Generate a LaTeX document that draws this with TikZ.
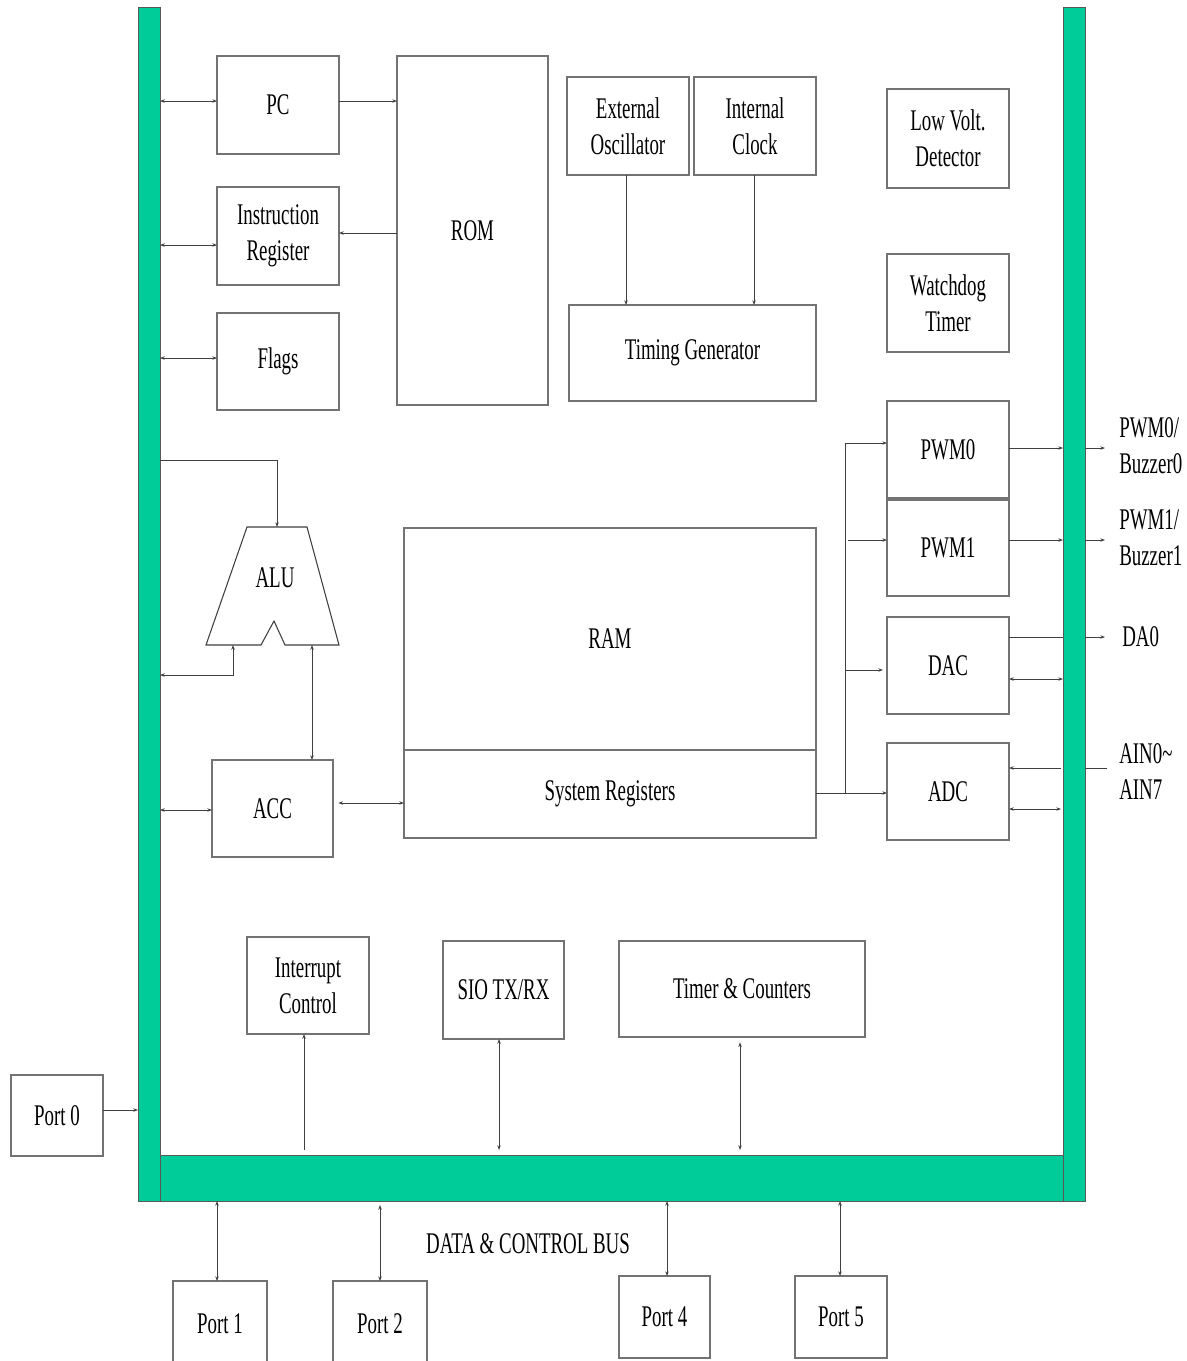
\documentclass[tikz,border=0pt]{standalone}
\usepackage{fontspec}
\setmainfont{Liberation Serif}[FakeStretch=0.63]
\usetikzlibrary{arrows.meta,calc}
\definecolor{busgreen}{HTML}{00CC99}
\newcommand\blk[7][blk]{\node[#1, minimum width={(#5-#3)*0.75pt}, minimum height={(#6-#4)*0.75pt}] (#2) at ({(#3+#5)/2},{(#4+#6)/2}) {#7};}
\begin{document}
\begin{tikzpicture}[x=0.75pt,y=-0.75pt,
  blk/.style={draw=black!55, line width=0.9pt, fill=white, inner sep=0pt, outer sep=0pt, align=center, font=\fontsize{22.5}{27}\selectfont},
  greenbar/.style={draw=black!65, line width=0.7pt, fill=busgreen, inner sep=0pt, outer sep=0pt},
  con/.style={draw=black!75, line width=0.6pt},
  lbl/.style={inner sep=0pt, align=left, font=\fontsize{22.5}{27}\selectfont},
  >={Stealth[length=3.5pt,width=2.6pt]}]
\useasboundingbox (0,0) rectangle (1186,1361);
\clip (0,0) rectangle (1186,1361);
% bars
\blk[greenbar]{lbar}{138}{7}{160}{1201}{}
\blk[greenbar]{rbar}{1063}{7}{1085}{1201}{}
\blk[greenbar]{bus}{160}{1155}{1063}{1201}{}
% blocks
\blk{PC}{217}{56}{339}{154}{PC}
\blk{IR}{217}{187}{339}{285}{Instruction\\Register}
\blk{FL}{217}{313}{339}{410}{Flags}
\blk{ROM}{397}{56}{548}{405}{ROM}
\blk{EO}{567}{77}{689}{175}{External\\Oscillator}
\blk{IC}{694}{77}{816}{175}{Internal\\Clock}
\blk{TG}{569}{305}{816}{401}{Timing Generator}
\blk{LVD}{887}{89}{1009}{188}{Low Volt.\\Detector}
\blk{WDT}{887}{254}{1009}{352}{Watchdog\\Timer}
\blk{PWM0}{887}{401}{1009}{498}{PWM0}
\blk{PWM1}{887}{500}{1009}{596}{PWM1}
\blk{DAC}{887}{617}{1009}{714}{DAC}
\blk{ADC}{887}{743}{1009}{840}{ADC}
\blk{RAM}{404}{528}{816}{750}{RAM}
\blk{SR}{404}{750}{816}{838}{System Registers}
\blk{ACC}{212}{760}{333}{857}{ACC}
\blk{INT}{247}{937}{369}{1034}{Interrupt\\Control}
\blk{SIO}{443}{941}{564}{1039}{SIO TX/RX}
\blk{TC}{619}{941}{865}{1037}{Timer \& Counters}
\blk{P0}{11}{1075}{103}{1156}{Port 0}
\blk{P1}{173}{1281}{267}{1367}{Port 1}
\blk{P2}{333}{1281}{427}{1367}{Port 2}
\blk{P4}{619}{1276}{710}{1358}{Port 4}
\blk{P5}{795}{1276}{887}{1358}{Port 5}
% ALU
\draw[draw=black!75, line width=0.8pt, fill=white] (247,527) -- (307,527) -- (339,645) -- (285,645) -- (274,621) -- (261,645) -- (206,645) -- cycle;
\node[lbl] (ALU) at (275,578) {ALU};
\coordinate (aluT) at (277,527);
\coordinate (aluL) at (233,645);
\coordinate (aluR) at (312,645);
% left side connectors
\draw[con,<->] (lbar.east |- 0,101) -- (PC.west |- 0,101);
\draw[con,->] (PC.east |- 0,101) -- (ROM.west |- 0,101);
\draw[con,<->] (lbar.east |- 0,245) -- (IR.west |- 0,245);
\draw[con,->] (ROM.west |- 0,233) -- (IR.east |- 0,233);
\draw[con,<->] (lbar.east |- 0,358) -- (FL.west |- 0,358);
\draw[con,->] (lbar.east |- 0,460) -| (aluT);
\draw[con,<->] (lbar.east |- 0,675) -| (aluL);
\draw[con,<->] (aluR) -- (aluR |- ACC.north);
\draw[con,<->] (lbar.east |- 0,810) -- (ACC.west |- 0,810);
\draw[con,<->] ([xshift=4pt]ACC.east |- 0,803) -- (SR.west |- 0,803);
% clocks
\draw[con,->] (EO.south -| 626,0) -- (TG.north -| 626,0);
\draw[con,->] (IC.south -| 754,0) -- (TG.north -| 754,0);
% peripherals
\coordinate (br) at (845,793);
\draw[con,->] (SR.east |- br) -- (ADC.west |- br);
\draw[con,->] (br) |- (PWM0.west |- 0,443);
\draw[con,->] (848,540) -- (PWM1.west |- 0,540);
\draw[con,->] (845,670) -- ([xshift=-3pt]DAC.west |- 0,670);
\draw[con,->] (PWM0.east |- 0,448) -- (rbar.west |- 0,448);
\draw[con,->] (PWM1.east |- 0,540) -- (rbar.west |- 0,540);
\draw[con] (DAC.east |- 0,637) -- (rbar.west |- 0,637);
\draw[con,<->] (DAC.east |- 0,679) -- (rbar.west |- 0,679);
\draw[con,->] ([xshift=-1.5pt]rbar.west |- 0,768) -- (ADC.east |- 0,768);
\draw[con,<->] (ADC.east |- 0,809) -- ([xshift=-1.5pt]rbar.west |- 0,809);
\coordinate (o1) at (1105,448);
\coordinate (o2) at (1105,540);
\coordinate (o3) at (1105,637);
\coordinate (o4) at (1107,768);
\draw[con,->] (rbar.east |- o1) -- (o1);
\draw[con,->] (rbar.east |- o2) -- (o2);
\draw[con,->] (rbar.east |- o3) -- (o3);
\draw[con] (rbar.east |- o4) -- (o4);
\node[lbl, anchor=west] (L1) at (1119,446) {PWM0/\\Buzzer0};
\node[lbl, anchor=west] (L2) at (1119,538) {PWM1/\\Buzzer1};
\node[lbl, anchor=west] (L3) at (1122,637) {DA0};
\node[lbl, anchor=west] (L4) at (1119,772) {AIN0\textasciitilde\\AIN7};
% bottom
\draw[con,->] (P0.east |- 0,1110) -- (lbar.west |- 0,1110);
\coordinate (bi) at (304,1150);
\draw[con,->] (bi) -- (bi |- INT.south);
\coordinate (bs) at (499,1150);
\draw[con,<->] (bs) -- (bs |- SIO.south);
\coordinate (bt) at (740,1150);
\draw[con,<->] (bt) -- ([yshift=-4pt]bt |- TC.south);
\draw[con,<->] (bus.south -| 217,0) -- (P1.north -| 217,0);
\draw[con,<->] ([yshift=-3pt]bus.south -| 380,0) -- (P2.north -| 380,0);
\draw[con,<->] (bus.south -| 667,0) -- (P4.north -| 667,0);
\draw[con,<->] (bus.south -| 840,0) -- (P5.north -| 840,0);
\node[lbl] (BUS) at (528,1244) {DATA \& CONTROL BUS};
\end{tikzpicture}
\end{document}
